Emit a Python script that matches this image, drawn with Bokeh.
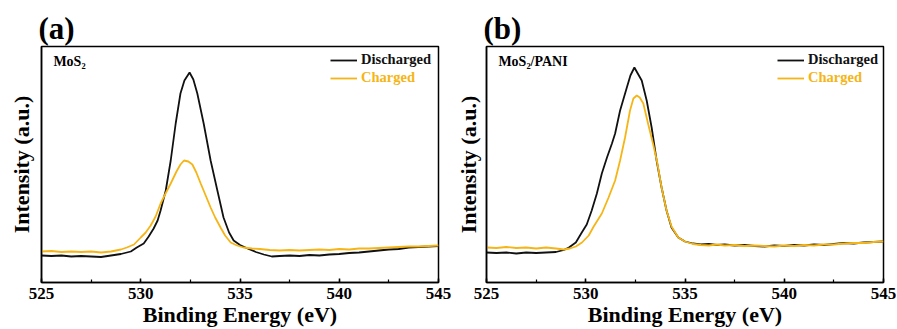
from bokeh.plotting import figure
from bokeh.models import Range1d, SingleIntervalTicker, FixedTicker, Legend, LegendItem
from bokeh.layouts import row
from bokeh.embed import file_html
from bokeh.resources import INLINE
from bokeh.core.properties import value

# ---------------- data ----------------
# Panel (a) MoS2
energy_a_dis = [525.0, 525.5, 526.0, 526.5, 527.0, 527.5, 528.0, 528.5, 529.0, 529.5,
                529.8, 530.15, 530.4, 530.65, 530.85, 531.0, 531.26, 531.51, 531.76, 532.0,
                532.2, 532.46, 532.65, 532.85, 533.17, 533.52, 533.86, 534.17, 534.45, 534.68,
                535.0, 535.38, 535.8, 536.2, 536.6, 537.0, 537.5, 538.0, 538.5, 539.0,
                539.5, 540.0, 540.5, 541.0, 541.5, 542.0, 542.5, 543.0, 543.5, 544.0,
                544.5, 545.0]
int_a_dis = [27, 26.5, 27, 26, 26.5, 26, 25.5, 27, 28.5, 31,
             35, 39, 46, 54, 62, 72, 92, 122, 159, 189,
             202, 210, 203, 189, 159, 122, 92, 65, 50, 42,
             37.5, 34, 30.5, 28, 26, 26.5, 27, 26.5, 27.5, 27,
             28, 28.5, 29.5, 30, 31, 32, 33, 33.5, 35, 35.5,
             36, 36.5]

energy_a_chg = [525.0, 525.5, 526.0, 526.5, 527.0, 527.5, 528.0, 528.5, 529.0, 529.3,
                529.66, 530.0, 530.25, 530.5, 530.75, 531.0, 531.25, 531.51, 531.8, 532.0,
                532.18, 532.4, 532.6, 532.8, 533.02, 533.25, 533.52, 533.75, 534.02, 534.25,
                534.53, 534.85, 535.18, 535.6, 536.0, 536.5, 537.0, 537.5, 538.0, 538.5,
                539.0, 539.5, 540.0, 540.5, 541.0, 541.5, 542.0, 542.5, 543.0, 543.5,
                544.0, 544.5, 545.0]
int_a_chg = [31, 31.5, 30.5, 31, 30.5, 31, 30, 31, 33, 35,
             38, 45, 50, 57, 66, 79, 89, 99, 111, 118,
             122, 121, 118, 110, 99, 88, 75, 65, 55, 47,
             40, 37, 35, 34, 33.5, 32.5, 32, 32.5, 32, 32.5,
             33, 32.5, 33.5, 33, 34, 34, 34.5, 35, 35.5, 36,
             36, 36.5, 37]

# Panel (b) MoS2/PANI
energy_b_dis = [525.0, 525.5, 526.0, 526.5, 527.0, 527.5, 528.0, 528.5, 528.9, 529.15,
                529.5, 529.8, 530.05, 530.3, 530.56, 530.81, 531.07, 531.32, 531.48, 531.73,
                532.07, 532.25, 532.45, 532.62, 532.82, 533.07, 533.32, 533.57, 533.82, 534.07,
                534.32, 534.66, 535.0, 535.4, 535.8, 536.2, 536.6, 537.0, 537.5, 538.0,
                538.5, 539.0, 539.5, 540.0, 540.5, 541.0, 541.5, 542.0, 542.5, 543.0,
                543.5, 544.0, 544.5, 545.0]
int_b_dis = [30, 29.5, 30, 29, 30, 29.5, 30, 30.5, 32.5, 35,
             40, 50, 58, 72, 89, 109, 125, 139, 149, 172,
             195, 207, 215, 209, 202, 182, 155, 122, 95, 72,
             55, 45, 41, 39, 38, 38.5, 37.5, 38, 37, 37.5,
             36.5, 36, 37, 36.5, 37.5, 37, 38, 37.5, 38.5, 39.5,
             39, 40, 40.5, 41]

energy_b_chg = [525.0, 525.5, 526.0, 526.5, 527.0, 527.5, 528.0, 528.5, 528.9, 529.2,
                529.5, 529.81, 530.15, 530.4, 530.81, 531.15, 531.48, 531.73, 531.98, 532.23,
                532.4, 532.57, 532.72, 532.9, 533.15, 533.4, 533.6, 533.82, 534.07, 534.32,
                534.66, 535.0, 535.4, 535.8, 536.2, 536.6, 537.0, 537.5, 538.0, 538.5,
                539.0, 539.5, 540.0, 540.5, 541.0, 541.5, 542.0, 542.5, 543.0, 543.5,
                544.0, 544.5, 545.0]
int_b_chg = [35, 34.5, 35.5, 34.5, 35, 34, 35, 34, 33, 34,
             36, 40, 47, 56, 69, 85, 102, 122, 145, 172,
             184, 187, 185, 179, 158, 138, 120, 95, 72, 56,
             45, 41, 38.5, 37.5, 37, 38, 37, 37.5, 36.5, 37,
             36.5, 36, 37, 36.5, 37.5, 37, 38, 38, 39, 39.5,
             39.5, 40.5, 41]

series_labels = ["Discharged", "Charged"]
panel_tags = ["(a)", "(b)"]
sample_names = ["MoS\u2082", "MoS\u2082/PANI"]
x_label = "Binding Energy (eV)"
y_label = "Intensity (a.u.)"

FONT = "Liberation Serif"
BLACK = "#111111"
GOLD = "#F5B516"


def make_panel(tag, sample, xd, yd, xc, yc, width, left, right, ylab_standoff, leg_x):
    p = figure(width=width, height=329, x_range=Range1d(525, 545), y_range=Range1d(0, 236),
               output_backend="svg", toolbar_location=None,
               min_border_left=left, min_border_right=right,
               min_border_top=46, min_border_bottom=47)
    p.background_fill_color = "white"
    p.border_fill_color = "white"
    p.xgrid.grid_line_color = None
    p.ygrid.grid_line_color = None
    p.outline_line_color = "black"
    p.outline_line_width = 1.5
    p.outline_line_alpha = 1.0

    # panel tag "(a)" / "(b)"
    p.title.text = tag
    p.title.text_font = FONT
    p.title.text_font_size = "31px"
    p.title.text_font_style = "bold"
    p.title.text_color = "black"
    p.title.align = "left"
    p.title.offset = -3
    p.title.standoff = 2

    xa = p.xaxis[0]
    xa.ticker = SingleIntervalTicker(interval=5, num_minor_ticks=2)
    xa.major_tick_in = 4
    xa.major_tick_out = 0
    xa.minor_tick_in = 3
    xa.minor_tick_out = 0
    xa.major_tick_line_width = 1.5
    xa.minor_tick_line_width = 1.2
    xa.axis_line_width = 1.5
    xa.major_label_text_font = FONT
    xa.major_label_text_font_size = "17px"
    xa.major_label_text_font_style = "bold"
    xa.major_label_text_color = "black"
    xa.major_label_standoff = 5
    xa.axis_label = x_label
    xa.axis_label_text_font = FONT
    xa.axis_label_text_font_size = "22px"
    xa.axis_label_text_font_style = "bold"
    xa.axis_label_text_color = "black"
    xa.axis_label_standoff = 0

    ya = p.yaxis[0]
    ya.ticker = FixedTicker(ticks=[])
    ya.major_tick_in = 0
    ya.major_tick_out = 0
    ya.minor_tick_in = 0
    ya.minor_tick_out = 0
    ya.axis_line_width = 1.5
    ya.major_label_standoff = 0
    ya.axis_label = y_label
    ya.axis_label_text_font = FONT
    ya.axis_label_text_font_size = "22px"
    ya.axis_label_text_font_style = "bold"
    ya.axis_label_text_color = "black"
    ya.axis_label_standoff = ylab_standoff

    r_dis = p.line(xd, yd, line_color=BLACK, line_width=1.8)
    r_chg = p.line(xc, yc, line_color=GOLD, line_width=1.8)

    p.text(x=[525.6], y=[221], text=[sample], text_font=value(FONT),
           text_font_size="14px", text_font_style="bold", text_color="black",
           text_baseline="middle", text_align="left")

    for lab, r, col, vy in [(series_labels[0], r_dis, BLACK, 214),
                            (series_labels[1], r_chg, GOLD, 196)]:
        leg = Legend(items=[LegendItem(label=lab, renderers=[r])], location=(leg_x, vy),
                     glyph_width=27, glyph_height=16, label_height=16, label_standoff=4,
                     padding=0, margin=0, spacing=0,
                     border_line_alpha=0, background_fill_alpha=0,
                     label_text_font=FONT, label_text_font_size="14.5px",
                     label_text_font_style="bold", label_text_color=col)
        p.add_layout(leg)
    return p


pa = make_panel(panel_tags[0], sample_names[0], energy_a_dis, int_a_dis,
                energy_a_chg, int_a_chg, 452, 41, 14, 8, 289)
pb = make_panel(panel_tags[1], sample_names[1], energy_b_dis, int_b_dis,
                energy_b_chg, int_b_chg, 445, 32, 14, 6, 291)

layout = row(pa, pb)
open("out.html", "w").write(file_html(layout, INLINE))
